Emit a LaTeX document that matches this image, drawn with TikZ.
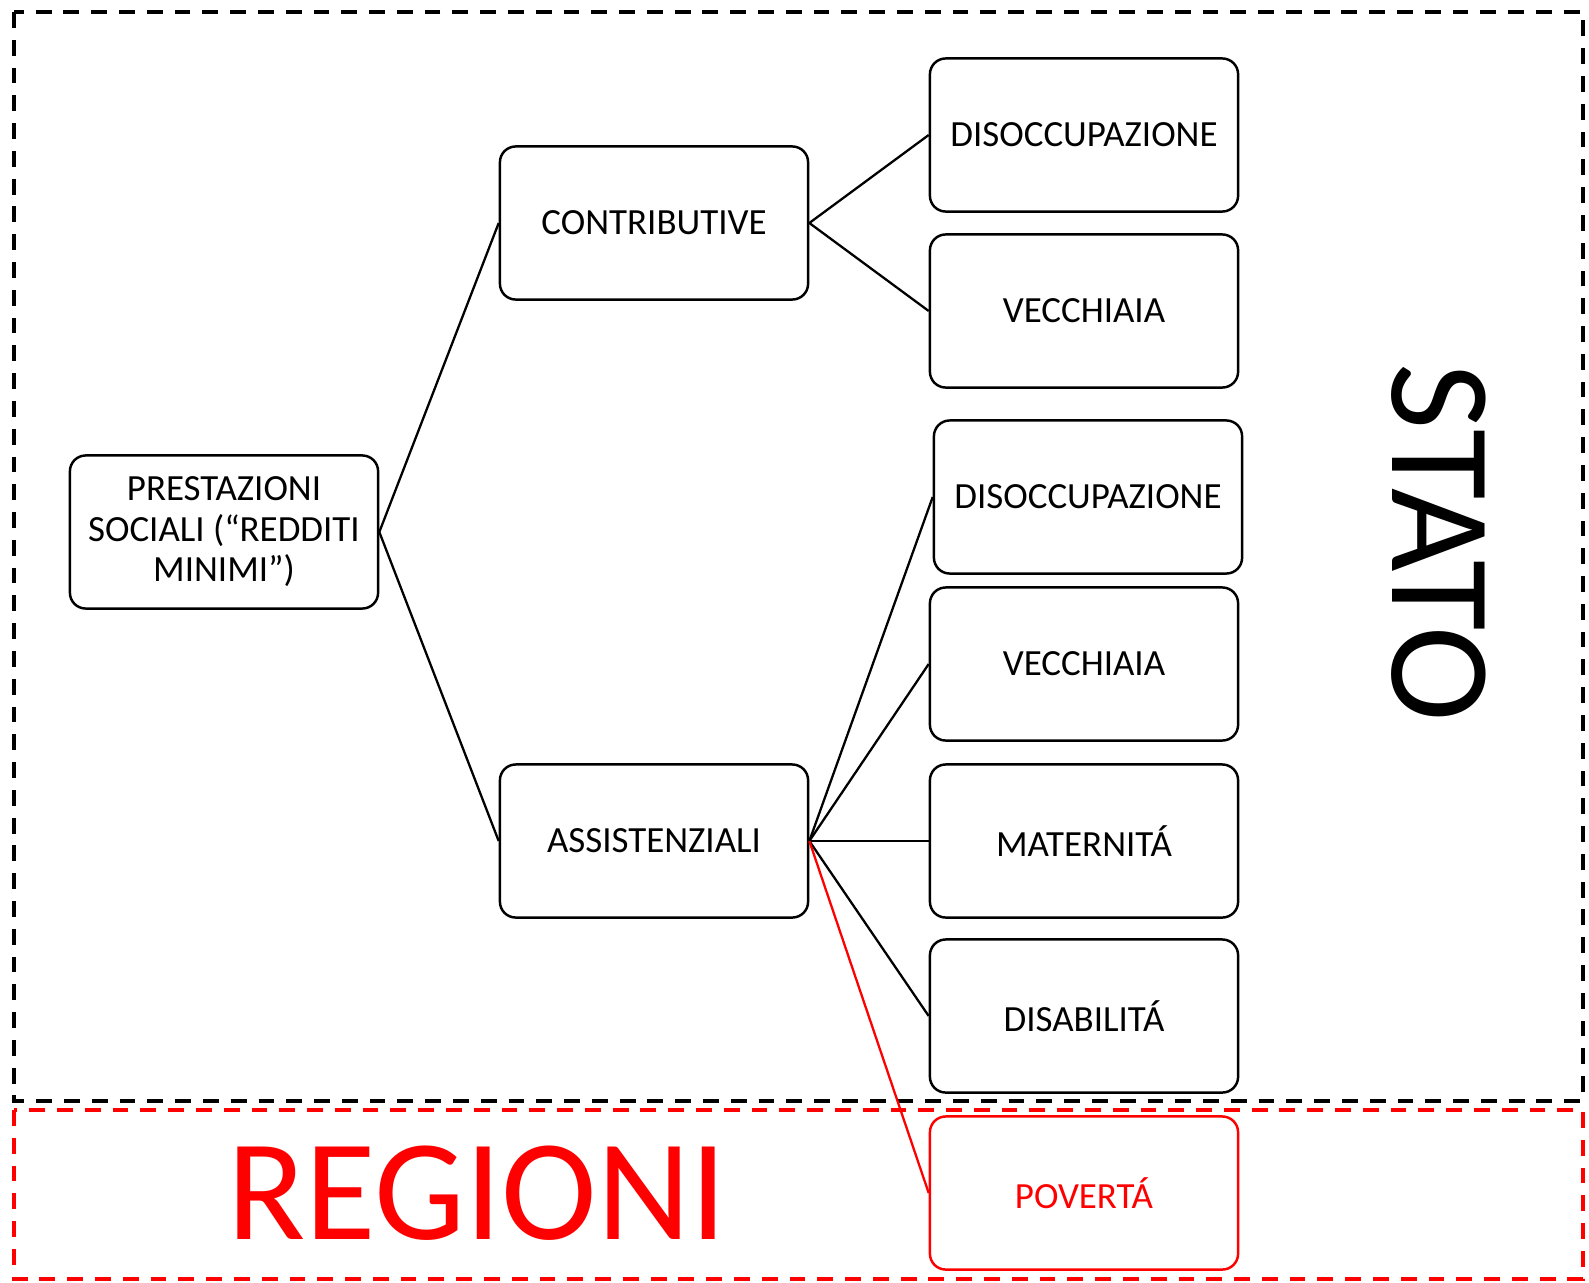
\documentclass[tikz,border=0pt]{standalone}
\usepackage{fontspec}
\setmainfont{Carlito}
\definecolor{regred}{RGB}{255, 0, 0}
\usetikzlibrary{positioning}

\begin{document}
\begin{tikzpicture}[x=0.01cm, y=-0.01cm,
  bx/.style={rounded corners=4.5pt, draw=#1, text=#1, line width=0.7pt, minimum width=3.08cm, minimum height=1.53cm, align=center, inner sep=0pt, font=\fontsize{10.5}{11.5}\selectfont},
  bx/.default=black,
  ln/.style={line width=0.65pt},
  fr/.style={draw=#1, line width=0.95pt, dash pattern=on 4.5pt off 3.4pt},
]
  \useasboundingbox (0,0) rectangle (1589,1282);
  % Frames
  \draw[fr=black]  (14,12) rectangle (1583,1101);
  \draw[fr=regred] (14,1110) rectangle (1583,1279);
  % Nodes
  \node[bx] (prest)  at (224,532)  {PRESTAZIONI\\SOCIALI (“REDDITI\\MINIMI”)};
  \node[bx] (contr)  at (654,223)  {CONTRIBUTIVE};
  \node[bx] (assist) at (654,841)  {ASSISTENZIALI};
  % Leaves
  \node[bx] (dis1)  at (1084,135)  {DISOCCUPAZIONE};
  \node[bx] (vec1)  at (1084,311)  {VECCHIAIA};
  \node[bx] (dis2)  at (1088,497)  {DISOCCUPAZIONE};
  \node[bx] (vec2)  at (1084,664)  {VECCHIAIA};
  \node[bx] (mat)   at (1084,841)  {MATERNITÁ};
  \node[bx] (disab) at (1084,1016) {DISABILITÁ};
  \node[bx=regred] (pov) at (1084,1193) {POVERTÁ};
  % Edges
  \draw[ln] (prest.east) -- (contr.west);
  \draw[ln] (prest.east) -- (assist.west);
  \draw[ln] (contr.east) -- (dis1.west);
  \draw[ln] (contr.east) -- (vec1.west);
  \draw[ln] (assist.east) -- (dis2.west);
  \draw[ln] (assist.east) -- (vec2.west);
  \draw[ln] (assist.east) -- (mat.west);
  \draw[ln] (assist.east) -- (disab.west);
  \draw[ln, regred] (assist.east) -- (pov.west);
  % Levels
  \node[rotate=-90, font=\fontsize{41}{41}\selectfont] (stato) at (1439,543) {STATO};
  \node[regred, font=\fontsize{41}{41}\selectfont] (regioni) at (477,1193) {REGIONI};
\end{tikzpicture}
\end{document}
